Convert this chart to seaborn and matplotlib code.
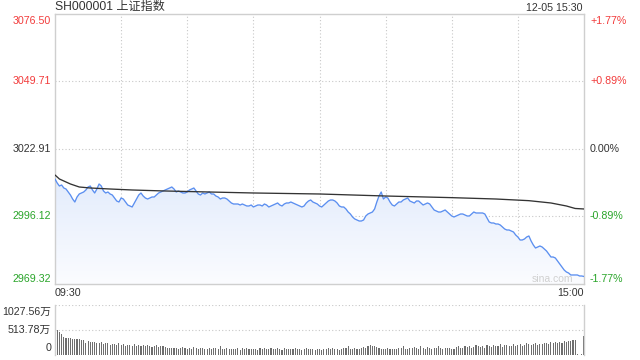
import numpy as np
import pandas as pd
import matplotlib
matplotlib.use("Agg")
import matplotlib.pyplot as plt
from matplotlib.colors import LinearSegmentedColormap
import seaborn as sns

# ---------------- data ----------------
title = "SH000001 上证指数"
date_label = "12-05 15:30"
prev_close = 3022.91
price_ticks = [3076.50, 3049.71, 3022.91, 2996.12, 2969.32]
pct_labels = ["+1.77%", "+0.89%", "0.00%", "-0.89%", "-1.77%"]
vol_ticks = [1027.56, 513.78, 0]
vol_tick_labels = ["1027.56万", "513.78万", "0"]
time_labels = ["09:30", "15:00"]
watermark = "sina.com"

price = [
    3011.00, 3009.41, 3008.22, 3008.62, 3007.43, 3007.03, 3005.84, 3004.65, 3003.06, 3001.87,
    3003.86, 3005.05, 3005.45, 3005.84, 3006.64, 3007.83, 3008.22, 3006.64, 3005.45, 3007.03,
    3009.02, 3008.22, 3006.24, 3005.45, 3005.84, 3005.05, 3004.65, 3003.46, 3002.27, 3001.87,
    3003.46, 3003.06, 3001.87, 3000.68, 3000.29, 2999.89, 3001.48, 3003.06, 3004.65, 3005.45,
    3004.25, 3003.46, 3003.06, 3003.46, 3003.86, 3003.86, 3004.65, 3005.45, 3005.84, 3006.24,
    3006.64, 3007.03, 3007.43, 3007.83, 3007.03, 3005.84, 3006.24, 3005.84, 3005.45, 3005.45,
    3005.84, 3006.64, 3007.03, 3007.43, 3006.24, 3005.05, 3004.65, 3005.45, 3005.05, 3005.45,
    3005.84, 3005.05, 3005.05, 3004.25, 3003.86, 3003.06, 3003.46, 3003.46, 3003.06, 3002.27,
    3001.48, 3001.08, 3001.08, 3001.08, 3000.68, 3001.08, 3000.68, 3000.29, 3000.29, 3000.68,
    2999.89, 3000.29, 3000.68, 3000.68, 3000.29, 3001.08, 3000.68, 2999.89, 3000.29, 3000.68,
    3001.08, 3001.48, 3000.68, 3000.29, 3001.08, 3001.48, 3001.48, 3001.87, 3001.48, 3001.08,
    3000.68, 3000.29, 2999.89, 3000.29, 3001.48, 3002.27, 3002.67, 3001.87, 3001.48, 3001.08,
    3000.29, 2999.89, 3000.68, 3001.48, 3002.27, 3002.67, 3002.67, 3002.27, 3001.48, 3000.29,
    2999.89, 2999.89, 2999.10, 2997.90, 2997.11, 2995.92, 2995.13, 2994.73, 2994.33, 2994.33,
    2994.73, 2996.32, 2997.11, 2997.51, 2997.90, 2999.10, 3001.87, 3004.25, 3005.84, 3003.06,
    3003.86, 3003.46, 3001.87, 3000.68, 3000.29, 3001.08, 3001.87, 3001.87, 3002.67, 3003.06,
    3003.46, 3002.27, 3001.87, 3001.48, 3002.27, 3002.27, 3001.48, 3000.68, 3001.08, 3001.48,
    3001.08, 2999.89, 2998.70, 2998.30, 2997.90, 2997.90, 2998.30, 2998.70, 2997.90, 2997.11,
    2996.32, 2995.92, 2996.32, 2996.71, 2997.11, 2997.11, 2996.71, 2996.32, 2996.32, 2997.11,
    2997.90, 2997.51, 2997.51, 2997.51, 2997.51, 2997.11, 2995.52, 2993.94, 2993.54, 2993.54,
    2993.14, 2993.14, 2992.75, 2991.95, 2991.16, 2990.76, 2990.76, 2990.36, 2989.97, 2988.78,
    2987.98, 2986.79, 2986.79, 2987.19, 2987.98, 2988.38, 2986.39, 2984.81, 2983.61, 2984.01,
    2984.41, 2984.01, 2983.22, 2982.42, 2981.23, 2980.04, 2980.04, 2979.64, 2978.45, 2977.26,
    2976.07, 2974.88, 2974.09, 2973.69, 2972.90, 2972.90, 2972.90, 2972.90, 2972.50, 2972.50, 2972.30,
]

avg_minutes = [0, 1, 2, 4, 7, 11, 16, 25, 35, 50, 70, 90, 120, 150, 180, 200, 215, 225, 232, 236, 240]
avg_price = [3012.59, 3011.80, 3011.00, 3010.21, 3009.02, 3007.83, 3007.43, 3007.03, 3006.64,
             3006.24, 3005.84, 3005.45, 3005.05, 3004.25, 3003.60, 3003.06, 3002.40, 3001.48,
             3000.29, 2999.30, 2999.10]

volume = [
    1027.56, 520, 470, 430, 370, 350, 340, 345, 330, 335,
    330, 320, 310, 300, 250, 285, 270, 260, 275, 240,
    245, 260, 230, 240, 250, 215, 235, 230, 210, 255,
    200, 225, 190, 215, 205, 185, 220, 195, 210, 180,
    200, 175, 215, 190, 170, 185, 200, 160, 175, 190,
    165, 150, 140, 135, 150, 145, 130, 140, 155, 135,
    125, 140, 130, 160, 145, 125, 135, 150, 130, 120,
    140, 125, 150, 135, 120, 180, 130, 125, 145, 120,
    115, 130, 125, 140, 110, 135, 120, 150, 125, 115,
    130, 120, 110, 145, 125, 135, 115, 120, 140, 130,
    125, 150, 120, 110, 135, 120, 115, 130, 125, 140,
    115, 120, 110, 125, 135, 120, 115, 125, 110, 120,
    130, 110, 120, 125, 135, 115, 140, 120, 130, 110,
    125, 150, 135, 175, 120, 130, 145, 125, 120, 140,
    170, 150, 185, 200, 175, 190, 160, 150, 130, 120,
    125, 140, 115, 130, 120, 125, 135, 140, 180, 130,
    125, 140, 150, 170, 135, 125, 190, 140, 130, 160,
    135, 125, 150, 140, 175, 135, 130, 145, 150, 140,
    125, 130, 160, 185, 150, 140, 175, 165, 190, 150,
    160, 200, 175, 160, 185, 150, 205, 180, 160, 200,
    175, 190, 220, 170, 200, 215, 185, 190, 225, 175,
    205, 230, 195, 210, 240, 220, 200, 235, 250, 215,
    225, 230, 255, 240, 220, 260, 250, 270, 245, 265,
    255, 280, 270, 285, 290, 300, 310, 12, 10, 12, 395,
]

# ---------------- style ----------------
sns.set_style("white")
FONT = ["Liberation Sans", "Noto Sans CJK SC", "DejaVu Sans"]
plt.rcParams["font.family"] = FONT

RED = "#f23b3b"
GREEN = "#2aa52a"
DARK = "#333333"
GRID = "#c8c8c8"
BORDER = "#cfcfcf"
BLUE = "#5b8ff0"

W, H = 640, 360
fig = plt.figure(figsize=(6.4, 3.6), dpi=100)


def fx(px):
    return px / W


def fy(py):
    return 1 - py / H


L, R = 55, 584
MT, MB = 14, 284
VT, VB = 305, 355
ax = fig.add_axes([fx(L), fy(MB), (R - L) / W, (MB - MT) / H])
axv = fig.add_axes([fx(L), fy(VB), (R - L) / W, (VB - VT) / H])

n = len(price)
minutes = np.arange(n)
df = pd.DataFrame({"minute": minutes, "price": price, "volume": volume[:n]})
df_avg = pd.DataFrame({"minute": avg_minutes, "avg": avg_price})

ymin, ymax = price_ticks[-1], price_ticks[0]
xmax = n - 1

# gradient fill under price line
poly = ax.fill_between(df["minute"], df["price"], ymin, color="none", lw=0)
cmap = LinearSegmentedColormap.from_list("g", ["#fbfcff", "#e3ecfc"])
grad = np.linspace(1, 0, 256).reshape(-1, 1)
img = ax.imshow(grad, extent=[0, xmax, ymin, max(price)], aspect="auto",
                cmap=cmap, vmin=0, vmax=1, origin="upper", zorder=1)
img.set_clip_path(poly.get_paths()[0], transform=ax.transData)

# grid
for m in range(30, xmax, 30):
    ax.axvline(m, color=GRID, lw=0.8, ls=(0, (1, 2)), zorder=0.5)
for p in price_ticks[1:-1]:
    ax.axhline(p, color=GRID, lw=0.8, ls=(0, (1, 2)), zorder=0.5)

sns.lineplot(data=df, x="minute", y="price", ax=ax, color=BLUE, linewidth=0.95, zorder=3)
sns.lineplot(data=df_avg, x="minute", y="avg", ax=ax, color=DARK, linewidth=0.95, zorder=4)

ax.set_xlim(0, xmax)
ax.set_ylim(ymin, ymax)
ax.set_xticks([])
ax.set_yticks([])
ax.set_xlabel("")
ax.set_ylabel("")
for s in ax.spines.values():
    s.set_visible(True)
    s.set_color(BORDER)
    s.set_linewidth(1.0)

# volume
for v in vol_ticks[:-1]:
    axv.axhline(v, color=GRID, lw=0.8, ls=(0, (1, 2)), zorder=0.5)
sns.barplot(data=df, x="minute", y="volume", ax=axv, native_scale=True,
            color="#6e6e6e", saturation=1, width=0.5, linewidth=0, errorbar=None, zorder=2)
axv.set_xlim(0, xmax)
axv.set_ylim(0, vol_ticks[0])
axv.set_xticks([])
axv.set_yticks([])
axv.set_xlabel("")
axv.set_ylabel("")
for k, s in axv.spines.items():
    s.set_color(BORDER)
    s.set_linewidth(1.0)
    s.set_visible(k in ("left", "right"))

# ---------------- texts ----------------
FS = 7.7
fig.text(fx(55), fy(7), title, ha="left", va="center", fontsize=8.7, color=DARK, family=FONT)
fig.text(fx(583), fy(8), date_label, ha="right", va="center", fontsize=FS, color=DARK)


def ypix(p):
    return MT + (ymax - p) * (MB - MT) / (ymax - ymin)


for i, (p, lab) in enumerate(zip(price_ticks, pct_labels)):
    yc = ypix(p)
    if i == 0:
        yc = MT + 6.5
    elif i == len(price_ticks) - 1:
        yc = MB - 5.5
    if p > prev_close + 1e-6:
        col = RED
    elif p < prev_close - 1e-6:
        col = GREEN
    else:
        col = DARK
    fig.text(fx(51), fy(yc), f"{p:.2f}", ha="right", va="center", fontsize=FS, color=col)
    fig.text(fx(590), fy(yc), lab, ha="left", va="center", fontsize=FS, color=col)

fig.text(fx(55), fy(293), time_labels[0], ha="left", va="center", fontsize=FS, color=DARK)
fig.text(fx(584), fy(293), time_labels[1], ha="right", va="center", fontsize=FS, color=DARK)
fig.text(fx(573), fy(279), watermark, ha="right", va="center", fontsize=7.5, color="#d0d0d0")

vol_y = [VT + 7, VT + (VB - VT) / 2, VB - 7]
for yc, lab in zip(vol_y, vol_tick_labels):
    fig.text(fx(51), fy(yc), lab, ha="right", va="center", fontsize=FS, color=DARK, family=FONT)

fig.savefig("out.png", dpi=100)
